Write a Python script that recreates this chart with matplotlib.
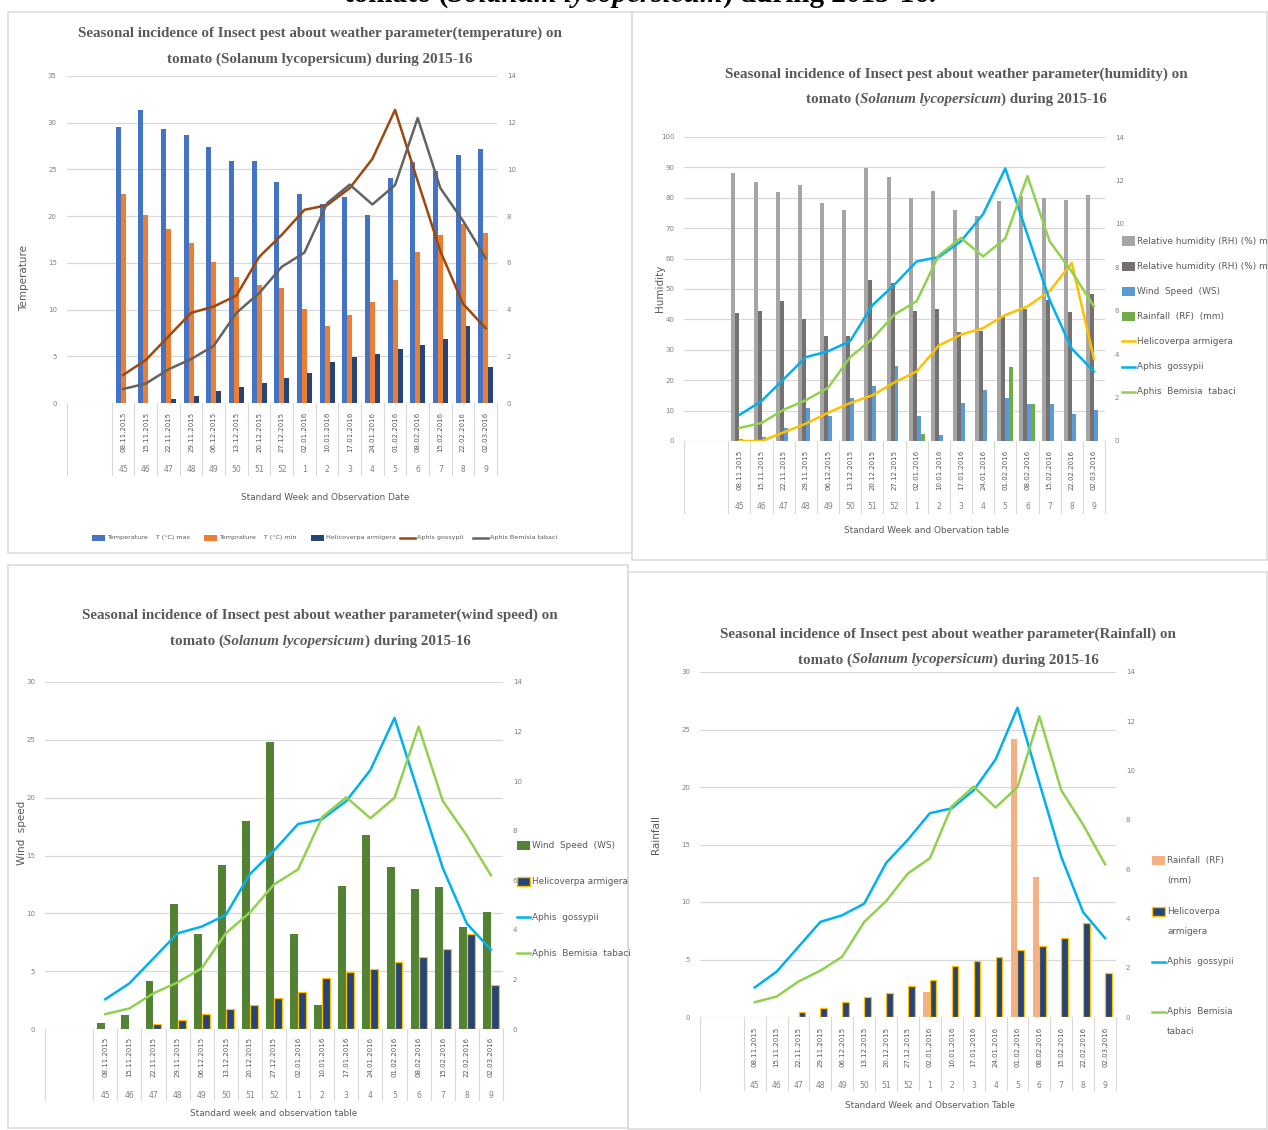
import numpy as np
import matplotlib
matplotlib.use('Agg')
import matplotlib.pyplot as plt
from matplotlib.patches import Rectangle
from matplotlib.lines import Line2D

# ---- data ----
dates = ['08.11.2015', '15.11.2015', '22.11.2015', '29.11.2015', '06.12.2015', '13.12.2015',
         '20.12.2015', '27.12.2015', '02.01.2016', '10.01.2016', '17.01.2016', '24.01.2016',
         '01.02.2016', '08.02.2016', '15.02.2016', '22.02.2016', '02.03.2016']
weeks = ['45', '46', '47', '48', '49', '50', '51', '52', '1', '2', '3', '4', '5', '6', '7', '8', '9']

temp_max = [29.5, 31.4, 29.3, 28.7, 27.4, 25.9, 25.9, 23.7, 22.4, 21.3, 22.0, 20.1, 24.1, 25.8, 24.8, 26.5, 27.2]
temp_min = [22.4, 20.1, 18.6, 17.1, 15.1, 13.5, 12.6, 12.3, 10.1, 8.2, 9.4, 10.8, 13.2, 16.2, 18.0, 19.2, 18.2]
rh_max = [88.0, 85.3, 81.9, 84.3, 78.4, 76.0, 89.8, 86.9, 79.8, 82.3, 76.0, 73.9, 79.0, 80.5, 79.8, 79.3, 80.8]
rh_min = [42.2, 42.9, 46.0, 40.1, 34.6, 34.6, 52.9, 51.9, 42.9, 43.3, 35.9, 36.3, 41.2, 43.3, 46.3, 42.5, 48.2]
wind_speed = [0.5, 1.2, 4.15, 10.8, 8.2, 14.2, 18.0, 24.8, 8.2, 2.1, 12.4, 16.8, 14.0, 12.1, 12.3, 8.8, 10.1]
rainfall = [0, 0, 0, 0, 0, 0, 0, 0, 2.2, 0, 0, 0, 24.2, 12.2, 0, 0, 0]

helicoverpa = [0, 0, 0.4, 0.8, 1.3, 1.75, 2.1, 2.7, 3.2, 4.4, 4.9, 5.2, 5.8, 6.2, 6.9, 8.2, 3.8]
aphis_gossypii = [1.2, 1.84, 2.85, 3.86, 4.13, 4.6, 6.25, 7.2, 8.27, 8.47, 9.2, 10.45, 12.55, 9.5, 6.5, 4.25, 3.2]
bemisia_tabaci = [0.6, 0.83, 1.44, 1.88, 2.45, 3.86, 4.7, 5.83, 6.44, 8.55, 9.35, 8.5, 9.33, 12.2, 9.2, 7.8, 6.2]

# ---- figure ----
W, H = 1268, 1130
plt.rcParams['font.family'] = ['Liberation Sans Narrow', 'DejaVu Sans']
fig = plt.figure(figsize=(W / 100, H / 100), dpi=100)
renderer = fig.canvas.get_renderer()

GRID = '#D9D9D9'
TICK = '#808080'
TXT = '#595959'
SERIF = ['Liberation Serif', 'DejaVu Serif']
LFS = 6.4   # legend / axis title size

x = np.arange(2, 19)


def rect(x0, ytop, x1, y0):
    return [x0 / W, 1 - y0 / H, (x1 - x0) / W, (y0 - ytop) / H]


def fx(px):
    return px / W


def fy(py):
    return 1 - py / H


def base_axes(r, ymax, ystep):
    ax = fig.add_axes(r)
    ax.set_xlim(-0.5, 18.5)
    ax.set_ylim(0, ymax)
    ax.set_yticks(np.arange(0, ymax + 0.01, ystep))
    ax.yaxis.grid(True, color=GRID, lw=0.9)
    ax.set_axisbelow(True)
    for s in ax.spines.values():
        s.set_visible(False)
    ax.set_xticks([])
    ax.tick_params(axis='y', length=0, labelsize=5, labelcolor=TICK, pad=7)
    ax2 = ax.twinx()
    ax2.set_ylim(0, 14)
    ax2.set_yticks(np.arange(0, 14.01, 2))
    for s in ax2.spines.values():
        s.set_visible(False)
    ax2.tick_params(axis='y', length=0, labelsize=5, labelcolor=TICK, pad=7)
    return ax, ax2


def cat_table(ax, date_off, week_off, depth):
    h = ax.get_position().height * H
    tr = ax.get_xaxis_transform()
    edges = [-0.5] + list(np.arange(1.5, 18.6, 1))
    for e in edges:
        ax.plot([e, e], [0, -depth / h], transform=tr, color=GRID, lw=0.8, clip_on=False)
    for xi, d, w in zip(x, dates, weeks):
        ax.text(xi, -date_off / h, d, rotation=90, ha='center', va='center', transform=tr,
                fontsize=5, color=TXT, family=['DejaVu Sans'])
        ax.text(xi, -week_off / h, w, ha='center', va='center', transform=tr,
                fontsize=5.5, color=TICK)


def mixed_title(xc, y, parts, size=10.8, color=TXT):
    texts = []
    for s, st in parts:
        t = fig.text(0, fy(y), s, fontsize=size, fontweight='bold', style=st,
                     family=SERIF, color=color, va='center', ha='left')
        texts.append(t)
    widths = [t.get_window_extent(renderer).width for t in texts]
    pos = xc - sum(widths) / 2
    for t, w in zip(texts, widths):
        t.set_x(pos / W)
        pos += w


def title2(xc, y1, y2, param, italic=True):
    mixed_title(xc, y1, [('Seasonal incidence of Insect pest about weather parameter(%s) on' % param, 'normal')])
    if italic:
        mixed_title(xc, y2, [('tomato (', 'normal'), ('Solanum lycopersicum', 'italic'),
                             (') during 2015-16', 'normal')])
    else:
        mixed_title(xc, y2, [('tomato (Solanum lycopersicum) during 2015-16', 'normal')])


def bars(ax, offs, w, vals, color, edge=None):
    v = np.array(vals, dtype=float)
    m = v > 0
    ax.bar(x[m] + offs, v[m], w, color=color, edgecolor=edge if edge else 'none',
           linewidth=0.9 if edge else 0, zorder=2)


def key(xm, y, kind, color, lines, fs=LFS, mw=13, mh=9, edge=None, lsp=20):
    # one legend entry drawn at pixel position (marker left edge, first text line centre)
    if kind == 'bar':
        fig.add_artist(Rectangle((fx(xm), fy(y + mh / 2)), mw / W, mh / H, transform=fig.transFigure,
                                 fc=color, ec=edge if edge else 'none', lw=1.0))
    else:
        fig.add_artist(Line2D([fx(xm), fx(xm + mw)], [fy(y), fy(y)], transform=fig.transFigure,
                              color=color, lw=1.8))
    for i, s in enumerate(lines):
        fig.text(fx(xm + mw + 2), fy(y + i * lsp), s, fontsize=fs, color=TXT, va='center', ha='left')


def panel(x0, y0, x1, y1):
    fig.add_artist(Rectangle((fx(x0), fy(y1)), (x1 - x0) / W, (y1 - y0) / H,
                             transform=fig.transFigure, fill=False, ec='#DDDDDD', lw=1.2))


panel(8, 12, 632, 553)
panel(632, 12, 1267, 560)
panel(8, 565, 628, 1128)
panel(628, 572, 1267, 1129)

# cut-off heading at top of the page
mixed_title(640, -6, [('tomato (', 'normal'), ('Solanum lycopersicum', 'italic'),
                      (') during 2015-16.', 'normal')], size=21, color='black')

# ---- temperature chart ----
ax, ax2 = base_axes(rect(66.5, 76, 497, 403), 35, 5)
w = 0.22
bars(ax, -w, w, temp_max, '#4472C4')
bars(ax, 0, w, temp_min, '#ED7D31')
bars(ax, w, w, helicoverpa, '#264478')
ax2.plot(x, aphis_gossypii, color='#9E480E', lw=1.8)
ax2.plot(x, bemisia_tabaci, color='#636363', lw=1.8)
cat_table(ax, 29, 67, 72)
title2(320, 33, 59, 'temperature', italic=False)
fig.text(fx(24), fy(278), 'Temperature', rotation=90, ha='center', va='center',
         fontsize=7.5, color=TXT, family=['DejaVu Sans'])
fig.text(fx(325), fy(497), 'Standard Week and Observation Date', ha='center', va='center',
         fontsize=LFS, color=TXT)
key(92, 538, 'bar', '#4472C4', ['Temperature    T (°C) max'], fs=4.6, mh=6)
key(204, 538, 'bar', '#ED7D31', ['Temprature    T (°C) min'], fs=4.6, mh=6)
key(311, 538, 'bar', '#264478', ['Helicoverpa armigera'], fs=4.6, mh=6)
key(400, 538, 'line', '#9E480E', ['Aphis gossypii'], fs=4.6, mw=15)
key(473, 538, 'line', '#636363', ['Aphis Bemisia tabaci'], fs=4.6, mw=15)

# ---- humidity chart ----
ax, ax2 = base_axes(rect(684, 137, 1105, 441), 100, 10)
w = 0.18
bars(ax, -1.5 * w, w, rh_max, '#A5A5A5')
bars(ax, -0.5 * w, w, rh_min, '#767171')
bars(ax, 0.5 * w, w, wind_speed, '#5B9BD5')
bars(ax, 1.5 * w, w, rainfall, '#70AD47')
ax2.plot(x, helicoverpa, color='#FFC000', lw=1.8)
ax2.plot(x, aphis_gossypii, color='#00B0F0', lw=1.8)
ax2.plot(x, bemisia_tabaci, color='#92D050', lw=1.8)
cat_table(ax, 29, 66, 72)
title2(956, 74, 99, 'humidity')
fig.text(fx(660), fy(288), 'Humidity', rotation=90, ha='center', va='center',
         fontsize=7.5, color=TXT, family=['DejaVu Sans'])
fig.text(fx(927), fy(530), 'Standard Week and Obervation table', ha='center', va='center',
         fontsize=LFS, color=TXT)
hum_keys = [('bar', '#A5A5A5', 'Relative humidity (RH) (%) max'),
            ('bar', '#767171', 'Relative humidity (RH) (%) min'),
            ('bar', '#5B9BD5', 'Wind  Speed  (WS)'),
            ('bar', '#70AD47', 'Rainfall  (RF)  (mm)'),
            ('line', '#FFC000', 'Helicoverpa armigera'),
            ('line', '#00B0F0', 'Aphis  gossypii'),
            ('line', '#92D050', 'Aphis  Bemisia  tabaci')]
for i, (kind, col, lab) in enumerate(hum_keys):
    key(1122, 241 + 25.1 * i, kind, col, [lab])

# ---- wind speed chart ----
ax, ax2 = base_axes(rect(45, 682, 503, 1029), 30, 5)
w = 0.33
bars(ax, -w / 2, w, wind_speed, '#548235')
bars(ax, w / 2, w, helicoverpa, '#264478', edge='#FFC000')
ax2.plot(x, aphis_gossypii, color='#00B0F0', lw=1.8)
ax2.plot(x, bemisia_tabaci, color='#92D050', lw=1.8)
cat_table(ax, 28, 67, 71)
title2(320, 615, 641, 'wind speed')
fig.text(fx(22), fy(833), 'Wind  speed', rotation=90, ha='center', va='center',
         fontsize=7.5, color=TXT, family=['DejaVu Sans'])
fig.text(fx(274), fy(1114), 'Standard week and observation table', ha='center', va='center',
         fontsize=LFS, color=TXT)
key(517, 845, 'bar', '#548235', ['Wind  Speed  (WS)'])
key(517, 881, 'bar', '#264478', ['Helicoverpa armigera'], edge='#FFC000')
key(517, 917, 'line', '#00B0F0', ['Aphis  gossypii'])
key(517, 953, 'line', '#92D050', ['Aphis  Bemisia  tabaci'])

# ---- rainfall chart ----
ax, ax2 = base_axes(rect(700, 672, 1116, 1017), 30, 5)
w = 0.3
bars(ax, -w / 2, w, rainfall, '#F4B183')
bars(ax, w / 2, w, helicoverpa, '#264478', edge='#FFC000')
ax2.plot(x, aphis_gossypii, color='#00B0F0', lw=1.8)
ax2.plot(x, bemisia_tabaci, color='#92D050', lw=1.8)
cat_table(ax, 30, 68, 73)
title2(948, 634, 660, 'Rainfall')
fig.text(fx(656), fy(835), 'Rainfall', rotation=90, ha='center', va='center',
         fontsize=7.5, color=TXT, family=['DejaVu Sans'])
fig.text(fx(930), fy(1106), 'Standard Week and Observation Table', ha='center', va='center',
         fontsize=LFS, color=TXT)
key(1152, 860, 'bar', '#F4B183', ['Rainfall  (RF)', '(mm)'])
key(1152, 911, 'bar', '#264478', ['Helicoverpa', 'armigera'], edge='#FFC000')
key(1152, 962, 'line', '#00B0F0', ['Aphis  gossypii'])
key(1152, 1012, 'line', '#92D050', ['Aphis  Bemisia', 'tabaci'])

fig.savefig('out.png', dpi=100)
